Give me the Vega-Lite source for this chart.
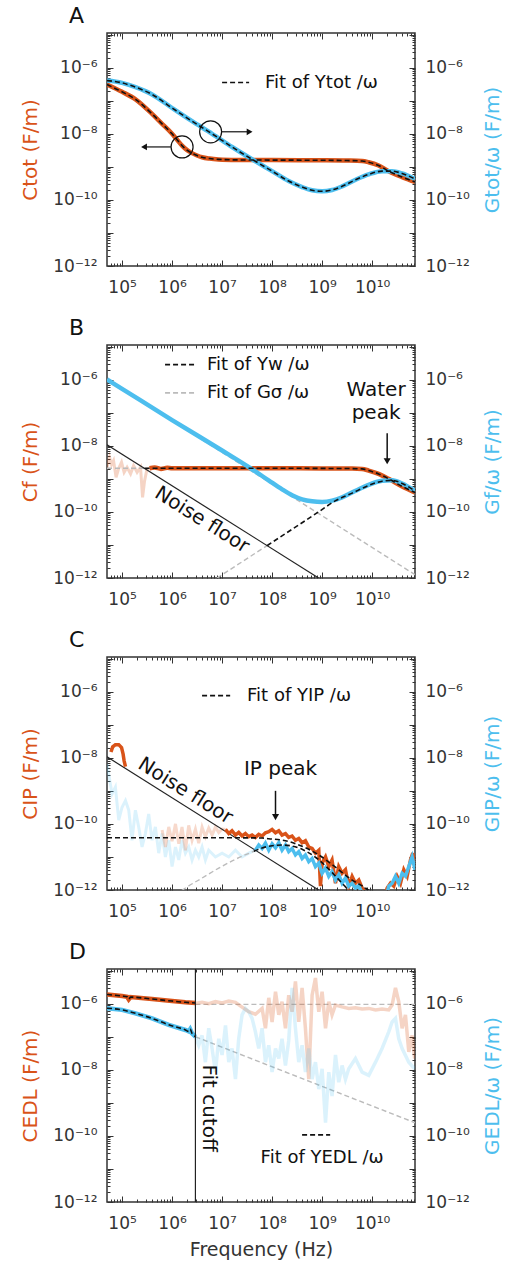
{
"$schema": "https://vega.github.io/schema/vega-lite/v6.json",
"background": "white",
"padding": {"left": 20, "top": 3, "right": 2, "bottom": 1},
"spacing": 19,
"config": {
  "font": "DejaVu Sans",
  "view": {"stroke": "#333333", "strokeWidth": 1.5},
  "axis": {"domain": false, "grid": false, "labelColor": "#333333", "tickColor": "#333333", "labelFont": "DejaVu Sans", "labelFontSize": 17, "titleFont": "DejaVu Sans", "titleFontWeight": "normal", "titleFontSize": 20, "labelOverlap": false, "labelFlush": false, "labelBound": false, "tickWidth": 1},
  "title": {"font": "DejaVu Sans", "fontSize": 22, "fontWeight": "normal", "color": "#111111", "anchor": "start", "frame": "group", "dx": -38, "offset": -2}
},
"datasets": {
  "A": [
    {"s":"C","f":5e4,"v":3.09e-7},{"s":"C","f":1e5,"v":1.86e-7},{"s":"C","f":1.86e5,"v":1.1e-7},{"s":"C","f":3.98e5,"v":3.98e-8},{"s":"C","f":6.31e5,"v":2.0e-8},{"s":"C","f":1e6,"v":1.0e-8},{"s":"C","f":1.26e6,"v":6.6e-9},{"s":"C","f":1.585e6,"v":4.4e-9},{"s":"C","f":2.0e6,"v":3.2e-9},{"s":"C","f":2.51e6,"v":2.6e-9},{"s":"C","f":3.16e6,"v":2.2e-9},{"s":"C","f":3.98e6,"v":1.95e-9},{"s":"C","f":5.6e6,"v":1.78e-9},{"s":"C","f":8.5e6,"v":1.68e-9},{"s":"C","f":2e7,"v":1.62e-9},{"s":"C","f":1e8,"v":1.6e-9},{"s":"C","f":1e9,"v":1.58e-9},{"s":"C","f":3.16e9,"v":1.55e-9},{"s":"C","f":6.31e9,"v":1.5e-9},{"s":"C","f":8.5e9,"v":1.38e-9},{"s":"C","f":1.35e10,"v":1.1e-9},{"s":"C","f":2.14e10,"v":7.4e-10},{"s":"C","f":3.98e10,"v":4.9e-10},{"s":"C","f":7.2e10,"v":3.5e-10},
    {"s":"G","f":5e4,"v":4.07e-7},{"s":"G","f":1e5,"v":3.47e-7},{"s":"G","f":1.86e5,"v":2.57e-7},{"s":"G","f":3.98e5,"v":1.55e-7},{"s":"G","f":1e6,"v":6.03e-8},{"s":"G","f":2.51e6,"v":2.4e-8},{"s":"G","f":6.31e6,"v":1.0e-8},{"s":"G","f":1.585e7,"v":3.98e-9},{"s":"G","f":4.27e7,"v":1.585e-9},{"s":"G","f":1e8,"v":7.41e-10},{"s":"G","f":2.14e8,"v":3.72e-10},{"s":"G","f":3.98e8,"v":2.45e-10},{"s":"G","f":6.31e8,"v":1.95e-10},{"s":"G","f":1e9,"v":1.82e-10},{"s":"G","f":1.585e9,"v":2.0e-10},{"s":"G","f":2.51e9,"v":2.57e-10},{"s":"G","f":4.68e9,"v":4.07e-10},{"s":"G","f":8.5e9,"v":5.89e-10},{"s":"G","f":1.585e10,"v":7.41e-10},{"s":"G","f":2.51e10,"v":7.41e-10},{"s":"G","f":3.98e10,"v":6.31e-10},{"s":"G","f":7.2e10,"v":4.3e-10}
  ],
  "aA": [
    {"k":"circle","f":1.585e6,"v":4.0e-9},{"k":"circle","f":5.9e6,"v":1.15e-8},
    {"k":"arr","f":9.5e5,"f2":2.75e5,"v":4.0e-9},{"k":"arr","f":9.8e6,"f2":3.55e7,"v":1.15e-8},
    {"k":"headL","f":2.75e5,"v":4.0e-9},{"k":"headR","f":3.55e7,"v":1.15e-8},
    {"k":"leg","f":1e7,"f2":3.47e7,"v":3.55e-7},
    {"k":"txt","f":7.2e7,"v":3.55e-7,"t":"Fit of Ytot /ω"}
  ],
  "B": [
    {"s":"Cn","f":5.01e4,"v":2.24e-9},{"s":"Cn","f":5.62e4,"v":4.47e-9},{"s":"Cn","f":6.17e4,"v":2.69e-9},{"s":"Cn","f":6.76e4,"v":3.55e-9},{"s":"Cn","f":7.59e4,"v":1.12e-9},{"s":"Cn","f":8.51e4,"v":2.0e-9},{"s":"Cn","f":9.77e4,"v":3.16e-9},{"s":"Cn","f":1.1e5,"v":1.58e-9},{"s":"Cn","f":1.26e5,"v":2.24e-9},{"s":"Cn","f":1.48e5,"v":1.41e-9},{"s":"Cn","f":1.7e5,"v":2.51e-9},{"s":"Cn","f":2.0e5,"v":1.58e-9},{"s":"Cn","f":2.34e5,"v":2.24e-9},{"s":"Cn","f":2.57e5,"v":2.75e-10},{"s":"Cn","f":2.82e5,"v":8.71e-10},{"s":"Cn","f":3.16e5,"v":2.0e-9},{"s":"Cn","f":3.55e5,"v":2.09e-9},
    {"s":"C","f":3.55e5,"v":2.09e-9},{"s":"C","f":4.5e5,"v":2.2e-9},{"s":"C","f":6e5,"v":2.0e-9},{"s":"C","f":8e5,"v":2.15e-9},{"s":"C","f":1e6,"v":2.09e-9},{"s":"C","f":1e7,"v":2.09e-9},{"s":"C","f":1e8,"v":2.09e-9},{"s":"C","f":1e9,"v":2.07e-9},{"s":"C","f":3.98e9,"v":2.04e-9},{"s":"C","f":6.31e9,"v":2.0e-9},{"s":"C","f":8.5e9,"v":1.78e-9},{"s":"C","f":1.35e10,"v":1.41e-9},{"s":"C","f":2.14e10,"v":1.0e-9},{"s":"C","f":3.98e10,"v":5.89e-10},{"s":"C","f":7.2e10,"v":3.89e-10},
    {"s":"Cfit","f":2.82e5,"v":2.09e-9},{"s":"Cfit","f":1e6,"v":2.09e-9},{"s":"Cfit","f":1e8,"v":2.09e-9},{"s":"Cfit","f":1e9,"v":2.07e-9},{"s":"Cfit","f":3.98e9,"v":2.04e-9},{"s":"Cfit","f":6.31e9,"v":2.0e-9},{"s":"Cfit","f":8.5e9,"v":1.78e-9},{"s":"Cfit","f":1.35e10,"v":1.41e-9},{"s":"Cfit","f":2.14e10,"v":1.0e-9},{"s":"Cfit","f":3.98e10,"v":5.89e-10},{"s":"Cfit","f":7.2e10,"v":3.89e-10},
    {"s":"Cfitg","f":5e4,"v":2.09e-9},{"s":"Cfitg","f":2.82e5,"v":2.09e-9},
    {"s":"G","f":5e4,"v":1.02e-6},{"s":"G","f":1e5,"v":5.3e-7},{"s":"G","f":1e6,"v":6.0e-8},{"s":"G","f":1e7,"v":7.2e-9},{"s":"G","f":3.98e7,"v":1.95e-9},{"s":"G","f":8.5e7,"v":9.0e-10},{"s":"G","f":1.585e8,"v":4.8e-10},{"s":"G","f":2.51e8,"v":3.2e-10},{"s":"G","f":3.98e8,"v":2.4e-10},{"s":"G","f":6.31e8,"v":2.09e-10},{"s":"G","f":1e9,"v":2.0e-10},{"s":"G","f":1.585e9,"v":2.19e-10},{"s":"G","f":2.51e9,"v":2.75e-10},{"s":"G","f":4.68e9,"v":4.37e-10},{"s":"G","f":8.5e9,"v":6.61e-10},{"s":"G","f":1.585e10,"v":8.71e-10},{"s":"G","f":2.51e10,"v":9.12e-10},{"s":"G","f":3.98e10,"v":7.24e-10},{"s":"G","f":7.2e10,"v":4.3e-10},
    {"s":"Gw","f":7.94e7,"v":9.55e-12},{"s":"Gw","f":8.5e8,"v":1.0e-10},{"s":"Gw","f":1.86e9,"v":2.19e-10},{"s":"Gw","f":3.98e9,"v":3.7e-10},{"s":"Gw","f":8.5e9,"v":6.3e-10},{"s":"Gw","f":1.585e10,"v":8.5e-10},{"s":"Gw","f":2.51e10,"v":9.0e-10},{"s":"Gw","f":3.98e10,"v":7.24e-10},{"s":"Gw","f":7.2e10,"v":4.3e-10},
    {"s":"Gwg","f":7.94e6,"v":1e-12},{"s":"Gwg","f":7.94e7,"v":9.55e-12},
    {"s":"Gs","f":5e4,"v":1.02e-6},{"s":"Gs","f":7.2e10,"v":1.26e-12},
    {"s":"N","f":5e4,"v":1.07e-8},{"s":"N","f":8.5e8,"v":1e-12}
  ],
  "aB": [
    {"k":"rot","f":3.98e6,"v":5.75e-11,"t":"Noise floor"},
    {"k":"big","f":1.2e10,"v":5.0e-7,"t":"Water"},{"k":"big","f":1.2e10,"v":9.8e-8,"t":"peak"},
    {"k":"varr","f":2e10,"v":2.4e-8,"v2":3.6e-9},{"k":"headD","f":2e10,"v":3.4e-9},
    {"k":"leg","f":7.24e5,"f2":2.75e6,"v":2.85e-6},{"k":"legg","f":7.24e5,"f2":2.75e6,"v":3.98e-7},
    {"k":"txt","f":5e6,"v":2.85e-6,"t":"Fit of Yw /ω"},{"k":"txt","f":5e6,"v":3.98e-7,"t":"Fit of Gσ /ω"}
  ],
  "C": [
    {"s":"Ch","f":6.0e4,"v":1.5e-8},{"s":"Ch","f":6.5e4,"v":2.14e-8},{"s":"Ch","f":7.36e4,"v":2.5e-8},{"s":"Ch","f":8.58e4,"v":2.5e-8},{"s":"Ch","f":9.77e4,"v":2.04e-8},{"s":"Ch","f":1.05e5,"v":1.29e-8},{"s":"Ch","f":1.1e5,"v":8.1e-9},{"s":"Ch","f":1.17e5,"v":5.4e-9},
    {"s":"Cf","f":6.31e5,"v":6.5e-11},{"s":"Cf","f":7.36e5,"v":2.0e-11},{"s":"Cf","f":8.58e5,"v":8.1e-11},{"s":"Cf","f":1e6,"v":3.0e-11},{"s":"Cf","f":1.17e6,"v":1.0e-10},{"s":"Cf","f":1.36e6,"v":2.5e-11},{"s":"Cf","f":1.58e6,"v":8.1e-11},{"s":"Cf","f":1.85e6,"v":1.6e-11},{"s":"Cf","f":2.15e6,"v":9e-11},{"s":"Cf","f":2.51e6,"v":3.2e-11},{"s":"Cf","f":2.93e6,"v":7e-11},{"s":"Cf","f":3.41e6,"v":2.6e-11},{"s":"Cf","f":3.98e6,"v":8e-11},{"s":"Cf","f":4.64e6,"v":4.1e-11},{"s":"Cf","f":5.41e6,"v":7.5e-11},{"s":"Cf","f":6.31e6,"v":4.6e-11},{"s":"Cf","f":7.36e6,"v":8e-11},{"s":"Cf","f":8.58e6,"v":5.5e-11},{"s":"Cf","f":1e7,"v":7e-11},{"s":"Cf","f":1.17e7,"v":6.8e-11},
    {"s":"C","f":1.17e7,"v":6.8e-11},{"s":"C","f":1.36e7,"v":5.1e-11},{"s":"C","f":1.58e7,"v":6.2e-11},{"s":"C","f":1.85e7,"v":4.6e-11},{"s":"C","f":2.15e7,"v":5.5e-11},{"s":"C","f":2.51e7,"v":4.3e-11},{"s":"C","f":2.93e7,"v":5.1e-11},{"s":"C","f":3.41e7,"v":4.1e-11},{"s":"C","f":3.98e7,"v":4.6e-11},{"s":"C","f":4.64e7,"v":3.9e-11},{"s":"C","f":5.41e7,"v":4.8e-11},{"s":"C","f":6.31e7,"v":4.3e-11},{"s":"C","f":7.36e7,"v":5.4e-11},{"s":"C","f":8.58e7,"v":5.8e-11},{"s":"C","f":1e8,"v":6.8e-11},{"s":"C","f":1.17e8,"v":5.4e-11},{"s":"C","f":1.36e8,"v":6.2e-11},{"s":"C","f":1.58e8,"v":4.6e-11},{"s":"C","f":1.85e8,"v":5.1e-11},{"s":"C","f":2.15e8,"v":3.9e-11},{"s":"C","f":2.51e8,"v":4.3e-11},{"s":"C","f":2.93e8,"v":3.2e-11},{"s":"C","f":3.41e8,"v":3.6e-11},{"s":"C","f":3.98e8,"v":2.7e-11},{"s":"C","f":4.64e8,"v":3.1e-11},{"s":"C","f":5.41e8,"v":2.0e-11},{"s":"C","f":6.31e8,"v":1.8e-11},{"s":"C","f":7.36e8,"v":1.3e-11},{"s":"C","f":8.58e8,"v":1.6e-11},{"s":"C","f":9.27e8,"v":1.3e-12},{"s":"C","f":1e9,"v":6.5e-12},{"s":"C","f":1.17e9,"v":1.0e-11},{"s":"C","f":1.36e9,"v":5.1e-12},{"s":"C","f":1.58e9,"v":8.1e-12},{"s":"C","f":1.85e9,"v":1.6e-12},{"s":"C","f":2.15e9,"v":5.1e-12},{"s":"C","f":2.51e9,"v":3.2e-12},{"s":"C","f":2.93e9,"v":4.1e-12},{"s":"C","f":3.41e9,"v":1.3e-12},{"s":"C","f":3.98e9,"v":2.6e-12},{"s":"C","f":4.64e9,"v":1.6e-12},{"s":"C","f":5.41e9,"v":2.0e-12},{"s":"C","f":6.31e9,"v":1.15e-12},{"s":"C","f":7.36e9,"v":8e-13},{"s":"C","f":8.58e9,"v":5e-13},{"s":"C","f":1.58e10,"v":3.2e-13},{"s":"C","f":2.0e10,"v":1.15e-12},{"s":"C","f":2.33e10,"v":1.6e-12},{"s":"C","f":2.71e10,"v":1.3e-12},{"s":"C","f":3.16e10,"v":2.6e-12},{"s":"C","f":3.69e10,"v":1.6e-12},{"s":"C","f":4.3e10,"v":4.1e-12},{"s":"C","f":5.01e10,"v":2.6e-12},{"s":"C","f":5.85e10,"v":8.1e-12},{"s":"C","f":6.5e10,"v":1.3e-11},{"s":"C","f":7.2e10,"v":5e-12},
    {"s":"Gf","f":5.01e4,"v":6.5e-9},{"s":"Gf","f":5.41e4,"v":3.2e-9},{"s":"Gf","f":6.31e4,"v":8.1e-10},{"s":"Gf","f":7.36e4,"v":1.3e-9},{"s":"Gf","f":8.58e4,"v":1.3e-10},{"s":"Gf","f":1e5,"v":3.2e-10},{"s":"Gf","f":1.17e5,"v":5.1e-10},{"s":"Gf","f":1.36e5,"v":2.6e-10},{"s":"Gf","f":1.58e5,"v":3.2e-11},{"s":"Gf","f":1.85e5,"v":2.6e-10},{"s":"Gf","f":2.15e5,"v":8.1e-11},{"s":"Gf","f":2.51e5,"v":2.0e-11},{"s":"Gf","f":2.93e5,"v":5.1e-11},{"s":"Gf","f":3.41e5,"v":2.0e-10},{"s":"Gf","f":3.98e5,"v":3.2e-11},{"s":"Gf","f":4.64e5,"v":8.1e-11},{"s":"Gf","f":5.41e5,"v":1.3e-11},{"s":"Gf","f":6.31e5,"v":5.1e-11},{"s":"Gf","f":7.36e5,"v":1.0e-11},{"s":"Gf","f":8.58e5,"v":3.2e-11},{"s":"Gf","f":1e6,"v":5.1e-12},{"s":"Gf","f":1.17e6,"v":2.0e-11},{"s":"Gf","f":1.36e6,"v":8.1e-12},{"s":"Gf","f":1.58e6,"v":3.2e-11},{"s":"Gf","f":1.85e6,"v":1.3e-11},{"s":"Gf","f":2.15e6,"v":2.0e-11},{"s":"Gf","f":2.51e6,"v":8.1e-12},{"s":"Gf","f":2.93e6,"v":1.6e-11},{"s":"Gf","f":3.41e6,"v":1.0e-11},{"s":"Gf","f":3.98e6,"v":2.0e-11},{"s":"Gf","f":4.64e6,"v":8.1e-12},{"s":"Gf","f":5.41e6,"v":1.6e-11},{"s":"Gf","f":7.36e6,"v":1.0e-11},{"s":"Gf","f":1e7,"v":1.3e-11},{"s":"Gf","f":1.36e7,"v":1.0e-11},{"s":"Gf","f":1.85e7,"v":1.6e-11},{"s":"Gf","f":2.51e7,"v":1.0e-11},{"s":"Gf","f":3.41e7,"v":1.3e-11},{"s":"Gf","f":4.64e7,"v":1.6e-11},
    {"s":"G","f":4.64e7,"v":1.6e-11},{"s":"G","f":5.41e7,"v":2.3e-11},{"s":"G","f":6.31e7,"v":1.8e-11},{"s":"G","f":7.36e7,"v":2.6e-11},{"s":"G","f":8.58e7,"v":1.6e-11},{"s":"G","f":1e8,"v":2.5e-11},{"s":"G","f":1.17e8,"v":1.9e-11},{"s":"G","f":1.36e8,"v":2.7e-11},{"s":"G","f":1.58e8,"v":1.6e-11},{"s":"G","f":1.85e8,"v":2.3e-11},{"s":"G","f":2.15e8,"v":1.45e-11},{"s":"G","f":2.51e8,"v":1.8e-11},{"s":"G","f":2.93e8,"v":1.15e-11},{"s":"G","f":3.41e8,"v":1.45e-11},{"s":"G","f":3.98e8,"v":9e-12},{"s":"G","f":4.64e8,"v":1.15e-11},{"s":"G","f":5.41e8,"v":7.2e-12},{"s":"G","f":6.31e8,"v":9e-12},{"s":"G","f":7.36e8,"v":5.1e-12},{"s":"G","f":8.58e8,"v":6.5e-12},{"s":"G","f":1e9,"v":3.2e-12},{"s":"G","f":1.17e9,"v":4.6e-12},{"s":"G","f":1.36e9,"v":2.6e-12},{"s":"G","f":1.58e9,"v":3.6e-12},{"s":"G","f":1.85e9,"v":2.0e-12},{"s":"G","f":2.15e9,"v":2.9e-12},{"s":"G","f":2.51e9,"v":1.6e-12},{"s":"G","f":2.93e9,"v":2.3e-12},{"s":"G","f":3.41e9,"v":1.3e-12},{"s":"G","f":3.98e9,"v":1.6e-12},{"s":"G","f":4.64e9,"v":1.15e-12},{"s":"G","f":5.41e9,"v":1.35e-12},{"s":"G","f":6.31e9,"v":8e-13},{"s":"G","f":7.36e9,"v":5e-13},{"s":"G","f":1.85e10,"v":5e-13},{"s":"G","f":2.15e10,"v":1.3e-12},{"s":"G","f":2.51e10,"v":1.6e-12},{"s":"G","f":2.93e10,"v":2.6e-12},{"s":"G","f":3.41e10,"v":1.6e-12},{"s":"G","f":3.98e10,"v":3.2e-12},{"s":"G","f":4.64e10,"v":2.6e-12},{"s":"G","f":5.41e10,"v":5.1e-12},{"s":"G","f":6.31e10,"v":1.0e-11},{"s":"G","f":7.2e10,"v":4.1e-12},
    {"s":"Cfit","f":5e4,"v":3.8e-11},{"s":"Cfit","f":1e7,"v":3.8e-11},{"s":"Cfit","f":6.31e7,"v":3.75e-11},{"s":"Cfit","f":8.58e7,"v":3.55e-11},{"s":"Cfit","f":1.85e8,"v":3.1e-11},{"s":"Cfit","f":3.98e8,"v":2.1e-11},{"s":"Cfit","f":8.58e8,"v":1.15e-11},{"s":"Cfit","f":1.85e9,"v":4.9e-12},{"s":"Cfit","f":3.98e9,"v":2.0e-12},{"s":"Cfit","f":7.36e9,"v":1.15e-12},{"s":"Cfit","f":1.17e10,"v":6.5e-13},
    {"s":"Gfitg","f":8.58e5,"v":5e-13},{"s":"Gfitg","f":1.85e6,"v":1.15e-12},{"s":"Gfitg","f":3.98e6,"v":2.3e-12},{"s":"Gfitg","f":8.58e6,"v":4.6e-12},{"s":"Gfitg","f":1.85e7,"v":8.5e-12},{"s":"Gfitg","f":4.3e7,"v":1.48e-11},
    {"s":"Gfit","f":4.3e7,"v":1.48e-11},{"s":"Gfit","f":6.31e7,"v":1.86e-11},{"s":"Gfit","f":1e8,"v":2.19e-11},{"s":"Gfit","f":1.58e8,"v":2.29e-11},{"s":"Gfit","f":2.51e8,"v":2.14e-11},{"s":"Gfit","f":3.98e8,"v":1.7e-11},{"s":"Gfit","f":7.36e8,"v":9.8e-12},{"s":"Gfit","f":1.36e9,"v":4.3e-12},{"s":"Gfit","f":2.51e9,"v":1.6e-12},{"s":"Gfit","f":3.6e9,"v":9.1e-13},
    {"s":"N","f":5e4,"v":1.07e-8},{"s":"N","f":8.5e8,"v":1e-12}
  ],
  "aC": [
    {"k":"rot","f":1.85e6,"v":1.0e-9,"t":"Noise floor"},
    {"k":"big","f":1.47e8,"v":4.6e-9,"t":"IP peak"},
    {"k":"varr","f":1.17e8,"v":1.0e-9,"v2":1.9e-10},{"k":"headD","f":1.17e8,"v":1.6e-10},
    {"k":"leg","f":3.98e6,"f2":1.45e7,"v":7.6e-7},
    {"k":"txt","f":3.16e7,"v":7.6e-7,"t":"Fit of YIP /ω"}
  ],
  "D": [
    {"s":"C","f":5e4,"v":1.9e-6},{"s":"C","f":1e5,"v":1.7e-6},{"s":"C","f":1.26e5,"v":1.62e-6},{"s":"C","f":1.36e5,"v":1.35e-6},{"s":"C","f":1.48e5,"v":1.58e-6},{"s":"C","f":3.98e5,"v":1.38e-6},{"s":"C","f":1e6,"v":1.2e-6},{"s":"C","f":1.85e6,"v":1.1e-6},{"s":"C","f":2.93e6,"v":1.05e-6},
    {"s":"G","f":5e4,"v":7.3e-7},{"s":"G","f":1e5,"v":6.5e-7},{"s":"G","f":1.85e5,"v":5.1e-7},{"s":"G","f":3.98e5,"v":3.6e-7},{"s":"G","f":8.58e5,"v":2.3e-7},{"s":"G","f":1.85e6,"v":1.6e-7},{"s":"G","f":2.15e6,"v":1.45e-7},{"s":"G","f":2.3e6,"v":1.7e-7},{"s":"G","f":2.51e6,"v":1.26e-7},{"s":"G","f":2.93e6,"v":1.0e-7},
    {"s":"Cx","f":2.93e6,"v":9.5e-7},{"s":"Cx","f":7.2e10,"v":9.5e-7},
    {"s":"Gx","f":2.93e6,"v":1.0e-7},{"s":"Gx","f":7.2e10,"v":2.5e-10},
    {"s":"Cf","f":2.93e6,"v":1.02e-6},{"s":"Cf","f":3.98e6,"v":1.1e-6},{"s":"Cf","f":5.41e6,"v":1.0e-6},{"s":"Cf","f":7.36e6,"v":1.15e-6},{"s":"Cf","f":1e7,"v":1.05e-6},{"s":"Cf","f":1.36e7,"v":1.2e-6},{"s":"Cf","f":1.85e7,"v":1.1e-6},{"s":"Cf","f":2.51e7,"v":7.9e-7},{"s":"Cf","f":3.41e7,"v":5.7e-7},{"s":"Cf","f":4.64e7,"v":4.8e-7},{"s":"Cf","f":6.31e7,"v":7.2e-7},{"s":"Cf","f":7.36e7,"v":1.8e-7},{"s":"Cf","f":8.58e7,"v":1.5e-6},{"s":"Cf","f":1e8,"v":2.8e-7},{"s":"Cf","f":1.17e8,"v":2.3e-6},{"s":"Cf","f":1.36e8,"v":4.6e-7},{"s":"Cf","f":1.58e8,"v":1.15e-6},{"s":"Cf","f":1.85e8,"v":1.8e-7},{"s":"Cf","f":2.15e8,"v":1.8e-6},{"s":"Cf","f":2.51e8,"v":5.7e-7},{"s":"Cf","f":2.93e8,"v":4.7e-6},{"s":"Cf","f":3.41e8,"v":2.8e-7},{"s":"Cf","f":3.98e8,"v":3.0e-6},{"s":"Cf","f":4.64e8,"v":1.8e-7},{"s":"Cf","f":5.41e8,"v":5.2e-9},{"s":"Cf","f":6.31e8,"v":1.8e-6},{"s":"Cf","f":7.36e8,"v":6e-6},{"s":"Cf","f":8.58e8,"v":5.7e-7},{"s":"Cf","f":1e9,"v":2.3e-6},{"s":"Cf","f":1.17e9,"v":1.8e-7},{"s":"Cf","f":1.36e9,"v":1.15e-6},{"s":"Cf","f":1.58e9,"v":4.6e-7},{"s":"Cf","f":1.85e9,"v":9.1e-7},{"s":"Cf","f":2.51e9,"v":8e-7},{"s":"Cf","f":3.41e9,"v":7.2e-7},{"s":"Cf","f":4.64e9,"v":7.5e-7},{"s":"Cf","f":6.31e9,"v":6.9e-7},{"s":"Cf","f":8.58e9,"v":7.2e-7},{"s":"Cf","f":1.17e10,"v":6.5e-7},{"s":"Cf","f":1.58e10,"v":6.9e-7},{"s":"Cf","f":2.15e10,"v":6.5e-7},{"s":"Cf","f":2.51e10,"v":9.1e-7},{"s":"Cf","f":2.93e10,"v":3e-6},{"s":"Cf","f":3.41e10,"v":1.15e-6},{"s":"Cf","f":3.98e10,"v":1.8e-7},{"s":"Cf","f":4.64e10,"v":4.6e-7},{"s":"Cf","f":5.41e10,"v":3.5e-8},{"s":"Cf","f":6.31e10,"v":1.1e-7},{"s":"Cf","f":7.08e10,"v":2.2e-8},
    {"s":"Gf","f":2.93e6,"v":1.0e-7},{"s":"Gf","f":3.41e6,"v":5.5e-8},{"s":"Gf","f":3.98e6,"v":1.1e-7},{"s":"Gf","f":4.64e6,"v":1.7e-8},{"s":"Gf","f":5.41e6,"v":1.8e-7},{"s":"Gf","f":6.31e6,"v":4.4e-8},{"s":"Gf","f":7.36e6,"v":8.5e-9},{"s":"Gf","f":8.58e6,"v":8.7e-8},{"s":"Gf","f":1e7,"v":2.8e-8},{"s":"Gf","f":1.17e7,"v":2.2e-7},{"s":"Gf","f":1.36e7,"v":1.7e-8},{"s":"Gf","f":1.58e7,"v":4.4e-8},{"s":"Gf","f":1.85e7,"v":5.2e-9},{"s":"Gf","f":2.15e7,"v":8.7e-8},{"s":"Gf","f":2.51e7,"v":4.6e-7},{"s":"Gf","f":2.93e7,"v":7.2e-7},{"s":"Gf","f":3.41e7,"v":5.7e-7},{"s":"Gf","f":3.98e7,"v":3.6e-7},{"s":"Gf","f":4.64e7,"v":1.4e-7},{"s":"Gf","f":5.41e7,"v":4.4e-8},{"s":"Gf","f":6.31e7,"v":1.8e-7},{"s":"Gf","f":7.36e7,"v":1.7e-8},{"s":"Gf","f":8.58e7,"v":5.5e-8},{"s":"Gf","f":1e8,"v":8.5e-9},{"s":"Gf","f":1.17e8,"v":4.4e-8},{"s":"Gf","f":1.36e8,"v":2.2e-8},{"s":"Gf","f":1.58e8,"v":8.7e-8},{"s":"Gf","f":1.85e8,"v":1.35e-8},{"s":"Gf","f":2.15e8,"v":7.6e-8},{"s":"Gf","f":2.51e8,"v":3e-6},{"s":"Gf","f":2.93e8,"v":1.8e-7},{"s":"Gf","f":3.41e8,"v":1.7e-8},{"s":"Gf","f":3.98e8,"v":5.5e-8},{"s":"Gf","f":4.64e8,"v":8.5e-9},{"s":"Gf","f":5.41e8,"v":4.4e-8},{"s":"Gf","f":6.31e8,"v":5.2e-9},{"s":"Gf","f":7.36e8,"v":1.7e-8},{"s":"Gf","f":8.58e8,"v":2.6e-9},{"s":"Gf","f":1e9,"v":1.07e-8},{"s":"Gf","f":1.17e9,"v":2.5e-10},{"s":"Gf","f":1.36e9,"v":8.5e-9},{"s":"Gf","f":1.58e9,"v":1.6e-9},{"s":"Gf","f":1.85e9,"v":2.8e-8},{"s":"Gf","f":2.15e9,"v":4.2e-9},{"s":"Gf","f":2.51e9,"v":1.35e-8},{"s":"Gf","f":2.93e9,"v":5.2e-9},{"s":"Gf","f":3.41e9,"v":1.07e-8},{"s":"Gf","f":4.64e9,"v":2.2e-8},{"s":"Gf","f":6.31e9,"v":8.5e-9},{"s":"Gf","f":8.58e9,"v":6.8e-9},{"s":"Gf","f":1.17e10,"v":1.7e-8},{"s":"Gf","f":1.58e10,"v":4.4e-8},{"s":"Gf","f":2.15e10,"v":1.4e-7},{"s":"Gf","f":2.51e10,"v":2.8e-7},{"s":"Gf","f":2.93e10,"v":3.6e-7},{"s":"Gf","f":3.41e10,"v":8.7e-8},{"s":"Gf","f":3.98e10,"v":4.4e-8},{"s":"Gf","f":5.41e10,"v":1.7e-8},{"s":"Gf","f":7.08e10,"v":1.07e-8}
  ],
  "aD": [
    {"k":"cut","f":2.93e6,"v":1e-12,"v2":1.12e-5},
    {"k":"rot","f":5.4e6,"v":6.9e-10,"t":"Fit cutoff"},
    {"k":"leg","f":3.98e8,"f2":1.45e9,"v":1.07e-10},
    {"k":"txtc","f":1e9,"v":2.1e-11,"t":"Fit of YEDL /ω"}
  ],
  "axisPt": [{"f":1e6,"v":1e-9}]
},
"vconcat": [
 {
  "title": {"text": "A"},
  "width": 308, "height": 233,
  "encoding": {
    "x": {"field":"f","type":"quantitative","scale":{"type":"log","domain":[50000,72000000000],"nice":false},"axis":null},
    "y": {"field":"v","type":"quantitative","scale":{"type":"log","domain":[1e-12,1.12e-5],"nice":false},"axis":null}
  },
  "resolve": {"axis": {"x":"independent","y":"independent"}},
  "layer": [
    {"data":{"name":"axisPt"},"mark":{"type":"point","opacity":0},
     "encoding":{
      "x":{"field":"f","type":"quantitative","scale":{"type":"log","domain":[50000,72000000000],"nice":false},"axis":{"orient":"bottom","values":[100000,1000000,10000000,100000000,1000000000,10000000000],"tickSize":-6,"labelPadding":19,"labelExpr":"'10' + ['⁵','⁶','⁷','⁸','⁹','¹⁰'][round(log(datum.value)/LN10)-5]","title":null}},
      "y":{"field":"v","type":"quantitative","scale":{"type":"log","domain":[1e-12,1.12e-5],"nice":false},"axis":{"orient":"left","values":[1e-12,1e-11,1e-10,1e-9,1e-8,1e-7,1e-6,1e-5],"tickSize":-6,"labelPadding":16,"labelExpr":"['10⁻¹²','','10⁻¹⁰','','10⁻⁸','','10⁻⁶',''][round(log(datum.value)/LN10)+12]","title":"Ctot (F/m)","titleColor":"#D95319","titlePadding":12}}
     }},
    {"data":{"name":"axisPt"},"mark":{"type":"point","opacity":0},
     "encoding":{
      "x":{"field":"f","type":"quantitative","scale":{"type":"log","domain":[50000,72000000000],"nice":false},"axis":{"orient":"top","values":[100000,1000000,10000000,100000000,1000000000,10000000000],"tickSize":-6,"labels":false,"title":null}},
      "y":{"field":"v","type":"quantitative","scale":{"type":"log","domain":[1e-12,1.12e-5],"nice":false},"axis":{"orient":"right","values":[1e-12,1e-11,1e-10,1e-9,1e-8,1e-7,1e-6,1e-5],"tickSize":-6,"labelPadding":16,"labelExpr":"['10⁻¹²','','10⁻¹⁰','','10⁻⁸','','10⁻⁶',''][round(log(datum.value)/LN10)+12]","title":"Gtot/ω (F/m)","titleColor":"#4DBEEE","titleAngle":-90,"titleBaseline":"top","titlePadding":13}}
     }},
    {"data":{"name":"axisPt"},"mark":{"type":"point","opacity":0},
     "encoding":{
      "x":{"field":"f","type":"quantitative","scale":{"type":"log","domain":[50000,72000000000],"nice":false},"axis":{"orient":"bottom","values":[60000,70000,80000,90000,200000,300000,400000,500000,600000,700000,800000,900000,2000000,3000000,4000000,5000000,6000000,7000000,8000000,9000000,20000000,30000000,40000000,50000000,60000000,70000000,80000000,90000000,200000000,300000000,400000000,500000000,600000000,700000000,800000000,900000000,2000000000,3000000000,4000000000,5000000000,6000000000,7000000000,8000000000,9000000000,20000000000,30000000000,40000000000,50000000000,60000000000,70000000000],"tickSize":-3,"labels":false,"title":null}},
      "y":{"field":"v","type":"quantitative","scale":{"type":"log","domain":[1e-12,1.12e-5],"nice":false},"axis":{"orient":"left","values":[2e-12,3e-12,4e-12,5e-12,6e-12,7e-12,8e-12,9e-12,2e-11,3e-11,4e-11,5e-11,6e-11,7e-11,8e-11,9e-11,2e-10,3e-10,4e-10,5e-10,6e-10,7e-10,8e-10,9e-10,2e-9,3e-9,4e-9,5e-9,6e-9,7e-9,8e-9,9e-9,2e-8,3e-8,4e-8,5e-8,6e-8,7e-8,8e-8,9e-8,2e-7,3e-7,4e-7,5e-7,6e-7,7e-7,8e-7,9e-7,2e-6,3e-6,4e-6,5e-6,6e-6,7e-6,8e-6,9e-6],"tickSize":-3,"labels":false,"title":null}}
     }},
    {"data":{"name":"axisPt"},"mark":{"type":"point","opacity":0},
     "encoding":{
      "x":{"field":"f","type":"quantitative","scale":{"type":"log","domain":[50000,72000000000],"nice":false},"axis":{"orient":"top","values":[60000,70000,80000,90000,200000,300000,400000,500000,600000,700000,800000,900000,2000000,3000000,4000000,5000000,6000000,7000000,8000000,9000000,20000000,30000000,40000000,50000000,60000000,70000000,80000000,90000000,200000000,300000000,400000000,500000000,600000000,700000000,800000000,900000000,2000000000,3000000000,4000000000,5000000000,6000000000,7000000000,8000000000,9000000000,20000000000,30000000000,40000000000,50000000000,60000000000,70000000000],"tickSize":-3,"labels":false,"title":null}},
      "y":{"field":"v","type":"quantitative","scale":{"type":"log","domain":[1e-12,1.12e-5],"nice":false},"axis":{"orient":"right","values":[2e-12,3e-12,4e-12,5e-12,6e-12,7e-12,8e-12,9e-12,2e-11,3e-11,4e-11,5e-11,6e-11,7e-11,8e-11,9e-11,2e-10,3e-10,4e-10,5e-10,6e-10,7e-10,8e-10,9e-10,2e-9,3e-9,4e-9,5e-9,6e-9,7e-9,8e-9,9e-9,2e-8,3e-8,4e-8,5e-8,6e-8,7e-8,8e-8,9e-8,2e-7,3e-7,4e-7,5e-7,6e-7,7e-7,8e-7,9e-7,2e-6,3e-6,4e-6,5e-6,6e-6,7e-6,8e-6,9e-6],"tickSize":-3,"labels":false,"title":null}}
     }},
    {"data":{"name":"A"},"transform":[{"filter":"datum.s=='C'"}],"mark":{"type":"line","color":"#D95319","strokeWidth":4.5,"interpolate":"monotone","clip":true}},
    {"data":{"name":"A"},"transform":[{"filter":"datum.s=='G'"}],"mark":{"type":"line","color":"#4DBEEE","strokeWidth":4.5,"interpolate":"monotone","clip":true}},
    {"data":{"name":"A"},"mark":{"type":"line","color":"#111111","strokeWidth":1.6,"strokeDash":[5,3],"interpolate":"monotone","clip":true},"encoding":{"detail":{"field":"s"}}},
    {"data":{"name":"aA"},"transform":[{"filter":"datum.k=='circle'"}],"mark":{"type":"point","shape":"circle","filled":false,"stroke":"#111111","strokeWidth":1.2,"size":484,"opacity":1}},
    {"data":{"name":"aA"},"transform":[{"filter":"datum.k=='arr'"}],"mark":{"type":"rule","color":"#111111","strokeWidth":1.2},"encoding":{"x2":{"field":"f2"}}},
    {"data":{"name":"aA"},"transform":[{"filter":"datum.k=='headL'"}],"mark":{"type":"point","shape":"triangle-left","filled":true,"color":"#111111","size":45,"opacity":1}},
    {"data":{"name":"aA"},"transform":[{"filter":"datum.k=='headR'"}],"mark":{"type":"point","shape":"triangle-right","filled":true,"color":"#111111","size":45,"opacity":1}},
    {"data":{"name":"aA"},"transform":[{"filter":"datum.k=='leg'"}],"mark":{"type":"rule","color":"#111111","strokeWidth":1.6,"strokeDash":[5,3]},"encoding":{"x2":{"field":"f2"}}},
    {"data":{"name":"aA"},"transform":[{"filter":"datum.k=='txt'"}],"mark":{"type":"text","align":"left","baseline":"middle","fontSize":18,"color":"#111111"},"encoding":{"text":{"field":"t"}}}
  ]
 },
 {
  "title": {"text": "B"},
  "width": 308, "height": 233,
  "encoding": {
    "x": {"field":"f","type":"quantitative","scale":{"type":"log","domain":[50000,72000000000],"nice":false},"axis":null},
    "y": {"field":"v","type":"quantitative","scale":{"type":"log","domain":[1e-12,1.12e-5],"nice":false},"axis":null}
  },
  "resolve": {"axis": {"x":"independent","y":"independent"}},
  "layer": [
    {"data":{"name":"axisPt"},"mark":{"type":"point","opacity":0},
     "encoding":{
      "x":{"field":"f","type":"quantitative","scale":{"type":"log","domain":[50000,72000000000],"nice":false},"axis":{"orient":"bottom","values":[100000,1000000,10000000,100000000,1000000000,10000000000],"tickSize":-6,"labelPadding":19,"labelExpr":"'10' + ['⁵','⁶','⁷','⁸','⁹','¹⁰'][round(log(datum.value)/LN10)-5]","title":null}},
      "y":{"field":"v","type":"quantitative","scale":{"type":"log","domain":[1e-12,1.12e-5],"nice":false},"axis":{"orient":"left","values":[1e-12,1e-11,1e-10,1e-9,1e-8,1e-7,1e-6,1e-5],"tickSize":-6,"labelPadding":16,"labelExpr":"['10⁻¹²','','10⁻¹⁰','','10⁻⁸','','10⁻⁶',''][round(log(datum.value)/LN10)+12]","title":"Cf (F/m)","titleColor":"#D95319","titlePadding":12}}
     }},
    {"data":{"name":"axisPt"},"mark":{"type":"point","opacity":0},
     "encoding":{
      "x":{"field":"f","type":"quantitative","scale":{"type":"log","domain":[50000,72000000000],"nice":false},"axis":{"orient":"top","values":[100000,1000000,10000000,100000000,1000000000,10000000000],"tickSize":-6,"labels":false,"title":null}},
      "y":{"field":"v","type":"quantitative","scale":{"type":"log","domain":[1e-12,1.12e-5],"nice":false},"axis":{"orient":"right","values":[1e-12,1e-11,1e-10,1e-9,1e-8,1e-7,1e-6,1e-5],"tickSize":-6,"labelPadding":16,"labelExpr":"['10⁻¹²','','10⁻¹⁰','','10⁻⁸','','10⁻⁶',''][round(log(datum.value)/LN10)+12]","title":"Gf/ω (F/m)","titleColor":"#4DBEEE","titleAngle":-90,"titleBaseline":"top","titlePadding":13}}
     }},
    {"data":{"name":"axisPt"},"mark":{"type":"point","opacity":0},
     "encoding":{
      "x":{"field":"f","type":"quantitative","scale":{"type":"log","domain":[50000,72000000000],"nice":false},"axis":{"orient":"bottom","values":[60000,70000,80000,90000,200000,300000,400000,500000,600000,700000,800000,900000,2000000,3000000,4000000,5000000,6000000,7000000,8000000,9000000,20000000,30000000,40000000,50000000,60000000,70000000,80000000,90000000,200000000,300000000,400000000,500000000,600000000,700000000,800000000,900000000,2000000000,3000000000,4000000000,5000000000,6000000000,7000000000,8000000000,9000000000,20000000000,30000000000,40000000000,50000000000,60000000000,70000000000],"tickSize":-3,"labels":false,"title":null}},
      "y":{"field":"v","type":"quantitative","scale":{"type":"log","domain":[1e-12,1.12e-5],"nice":false},"axis":{"orient":"left","values":[2e-12,3e-12,4e-12,5e-12,6e-12,7e-12,8e-12,9e-12,2e-11,3e-11,4e-11,5e-11,6e-11,7e-11,8e-11,9e-11,2e-10,3e-10,4e-10,5e-10,6e-10,7e-10,8e-10,9e-10,2e-9,3e-9,4e-9,5e-9,6e-9,7e-9,8e-9,9e-9,2e-8,3e-8,4e-8,5e-8,6e-8,7e-8,8e-8,9e-8,2e-7,3e-7,4e-7,5e-7,6e-7,7e-7,8e-7,9e-7,2e-6,3e-6,4e-6,5e-6,6e-6,7e-6,8e-6,9e-6],"tickSize":-3,"labels":false,"title":null}}
     }},
    {"data":{"name":"axisPt"},"mark":{"type":"point","opacity":0},
     "encoding":{
      "x":{"field":"f","type":"quantitative","scale":{"type":"log","domain":[50000,72000000000],"nice":false},"axis":{"orient":"top","values":[60000,70000,80000,90000,200000,300000,400000,500000,600000,700000,800000,900000,2000000,3000000,4000000,5000000,6000000,7000000,8000000,9000000,20000000,30000000,40000000,50000000,60000000,70000000,80000000,90000000,200000000,300000000,400000000,500000000,600000000,700000000,800000000,900000000,2000000000,3000000000,4000000000,5000000000,6000000000,7000000000,8000000000,9000000000,20000000000,30000000000,40000000000,50000000000,60000000000,70000000000],"tickSize":-3,"labels":false,"title":null}},
      "y":{"field":"v","type":"quantitative","scale":{"type":"log","domain":[1e-12,1.12e-5],"nice":false},"axis":{"orient":"right","values":[2e-12,3e-12,4e-12,5e-12,6e-12,7e-12,8e-12,9e-12,2e-11,3e-11,4e-11,5e-11,6e-11,7e-11,8e-11,9e-11,2e-10,3e-10,4e-10,5e-10,6e-10,7e-10,8e-10,9e-10,2e-9,3e-9,4e-9,5e-9,6e-9,7e-9,8e-9,9e-9,2e-8,3e-8,4e-8,5e-8,6e-8,7e-8,8e-8,9e-8,2e-7,3e-7,4e-7,5e-7,6e-7,7e-7,8e-7,9e-7,2e-6,3e-6,4e-6,5e-6,6e-6,7e-6,8e-6,9e-6],"tickSize":-3,"labels":false,"title":null}}
     }},
    {"data":{"name":"B"},"transform":[{"filter":"datum.s=='Cn'"}],"mark":{"type":"line","color":"#D95319","opacity":0.25,"strokeWidth":3,"clip":true}},
    {"data":{"name":"B"},"transform":[{"filter":"datum.s=='Cfitg' || datum.s=='Gs' || datum.s=='Gwg'"}],"mark":{"type":"line","color":"#BBBBBB","strokeWidth":1.4,"strokeDash":[5,3],"clip":true},"encoding":{"detail":{"field":"s"}}},
    {"data":{"name":"B"},"transform":[{"filter":"datum.s=='N'"}],"mark":{"type":"line","color":"#222222","strokeWidth":1.2,"clip":true}},
    {"data":{"name":"B"},"transform":[{"filter":"datum.s=='C'"}],"mark":{"type":"line","color":"#D95319","strokeWidth":4.5,"interpolate":"monotone","clip":true}},
    {"data":{"name":"B"},"transform":[{"filter":"datum.s=='G'"}],"mark":{"type":"line","color":"#4DBEEE","strokeWidth":4.5,"interpolate":"monotone","clip":true}},
    {"data":{"name":"B"},"transform":[{"filter":"datum.s=='Cfit' || datum.s=='Gw'"}],"mark":{"type":"line","color":"#111111","strokeWidth":1.6,"strokeDash":[5,3],"interpolate":"monotone","clip":true},"encoding":{"detail":{"field":"s"}}},
    {"data":{"name":"aB"},"transform":[{"filter":"datum.k=='rot'"}],"mark":{"type":"text","angle":32,"align":"center","baseline":"middle","fontSize":20,"color":"#111111"},"encoding":{"text":{"field":"t"}}},
    {"data":{"name":"aB"},"transform":[{"filter":"datum.k=='big'"}],"mark":{"type":"text","align":"center","baseline":"middle","fontSize":20,"color":"#111111"},"encoding":{"text":{"field":"t"}}},
    {"data":{"name":"aB"},"transform":[{"filter":"datum.k=='varr'"}],"mark":{"type":"rule","color":"#111111","strokeWidth":1.5},"encoding":{"y2":{"field":"v2"}}},
    {"data":{"name":"aB"},"transform":[{"filter":"datum.k=='headD'"}],"mark":{"type":"point","shape":"triangle-down","filled":true,"color":"#111111","size":50,"opacity":1}},
    {"data":{"name":"aB"},"transform":[{"filter":"datum.k=='leg'"}],"mark":{"type":"rule","color":"#111111","strokeWidth":1.6,"strokeDash":[5,3]},"encoding":{"x2":{"field":"f2"}}},
    {"data":{"name":"aB"},"transform":[{"filter":"datum.k=='legg'"}],"mark":{"type":"rule","color":"#BBBBBB","strokeWidth":1.6,"strokeDash":[5,3]},"encoding":{"x2":{"field":"f2"}}},
    {"data":{"name":"aB"},"transform":[{"filter":"datum.k=='txt'"}],"mark":{"type":"text","align":"left","baseline":"middle","fontSize":18,"color":"#111111"},"encoding":{"text":{"field":"t"}}}
  ]
 },
 {
  "title": {"text": "C"},
  "width": 308, "height": 233,
  "encoding": {
    "x": {"field":"f","type":"quantitative","scale":{"type":"log","domain":[50000,72000000000],"nice":false},"axis":null},
    "y": {"field":"v","type":"quantitative","scale":{"type":"log","domain":[1e-12,1.12e-5],"nice":false},"axis":null}
  },
  "resolve": {"axis": {"x":"independent","y":"independent"}},
  "layer": [
    {"data":{"name":"axisPt"},"mark":{"type":"point","opacity":0},
     "encoding":{
      "x":{"field":"f","type":"quantitative","scale":{"type":"log","domain":[50000,72000000000],"nice":false},"axis":{"orient":"bottom","values":[100000,1000000,10000000,100000000,1000000000,10000000000],"tickSize":-6,"labelPadding":19,"labelExpr":"'10' + ['⁵','⁶','⁷','⁸','⁹','¹⁰'][round(log(datum.value)/LN10)-5]","title":null}},
      "y":{"field":"v","type":"quantitative","scale":{"type":"log","domain":[1e-12,1.12e-5],"nice":false},"axis":{"orient":"left","values":[1e-12,1e-11,1e-10,1e-9,1e-8,1e-7,1e-6,1e-5],"tickSize":-6,"labelPadding":16,"labelExpr":"['10⁻¹²','','10⁻¹⁰','','10⁻⁸','','10⁻⁶',''][round(log(datum.value)/LN10)+12]","title":"CIP (F/m)","titleColor":"#D95319","titlePadding":12}}
     }},
    {"data":{"name":"axisPt"},"mark":{"type":"point","opacity":0},
     "encoding":{
      "x":{"field":"f","type":"quantitative","scale":{"type":"log","domain":[50000,72000000000],"nice":false},"axis":{"orient":"top","values":[100000,1000000,10000000,100000000,1000000000,10000000000],"tickSize":-6,"labels":false,"title":null}},
      "y":{"field":"v","type":"quantitative","scale":{"type":"log","domain":[1e-12,1.12e-5],"nice":false},"axis":{"orient":"right","values":[1e-12,1e-11,1e-10,1e-9,1e-8,1e-7,1e-6,1e-5],"tickSize":-6,"labelPadding":16,"labelExpr":"['10⁻¹²','','10⁻¹⁰','','10⁻⁸','','10⁻⁶',''][round(log(datum.value)/LN10)+12]","title":"GIP/ω (F/m)","titleColor":"#4DBEEE","titleAngle":-90,"titleBaseline":"top","titlePadding":13}}
     }},
    {"data":{"name":"axisPt"},"mark":{"type":"point","opacity":0},
     "encoding":{
      "x":{"field":"f","type":"quantitative","scale":{"type":"log","domain":[50000,72000000000],"nice":false},"axis":{"orient":"bottom","values":[60000,70000,80000,90000,200000,300000,400000,500000,600000,700000,800000,900000,2000000,3000000,4000000,5000000,6000000,7000000,8000000,9000000,20000000,30000000,40000000,50000000,60000000,70000000,80000000,90000000,200000000,300000000,400000000,500000000,600000000,700000000,800000000,900000000,2000000000,3000000000,4000000000,5000000000,6000000000,7000000000,8000000000,9000000000,20000000000,30000000000,40000000000,50000000000,60000000000,70000000000],"tickSize":-3,"labels":false,"title":null}},
      "y":{"field":"v","type":"quantitative","scale":{"type":"log","domain":[1e-12,1.12e-5],"nice":false},"axis":{"orient":"left","values":[2e-12,3e-12,4e-12,5e-12,6e-12,7e-12,8e-12,9e-12,2e-11,3e-11,4e-11,5e-11,6e-11,7e-11,8e-11,9e-11,2e-10,3e-10,4e-10,5e-10,6e-10,7e-10,8e-10,9e-10,2e-9,3e-9,4e-9,5e-9,6e-9,7e-9,8e-9,9e-9,2e-8,3e-8,4e-8,5e-8,6e-8,7e-8,8e-8,9e-8,2e-7,3e-7,4e-7,5e-7,6e-7,7e-7,8e-7,9e-7,2e-6,3e-6,4e-6,5e-6,6e-6,7e-6,8e-6,9e-6],"tickSize":-3,"labels":false,"title":null}}
     }},
    {"data":{"name":"axisPt"},"mark":{"type":"point","opacity":0},
     "encoding":{
      "x":{"field":"f","type":"quantitative","scale":{"type":"log","domain":[50000,72000000000],"nice":false},"axis":{"orient":"top","values":[60000,70000,80000,90000,200000,300000,400000,500000,600000,700000,800000,900000,2000000,3000000,4000000,5000000,6000000,7000000,8000000,9000000,20000000,30000000,40000000,50000000,60000000,70000000,80000000,90000000,200000000,300000000,400000000,500000000,600000000,700000000,800000000,900000000,2000000000,3000000000,4000000000,5000000000,6000000000,7000000000,8000000000,9000000000,20000000000,30000000000,40000000000,50000000000,60000000000,70000000000],"tickSize":-3,"labels":false,"title":null}},
      "y":{"field":"v","type":"quantitative","scale":{"type":"log","domain":[1e-12,1.12e-5],"nice":false},"axis":{"orient":"right","values":[2e-12,3e-12,4e-12,5e-12,6e-12,7e-12,8e-12,9e-12,2e-11,3e-11,4e-11,5e-11,6e-11,7e-11,8e-11,9e-11,2e-10,3e-10,4e-10,5e-10,6e-10,7e-10,8e-10,9e-10,2e-9,3e-9,4e-9,5e-9,6e-9,7e-9,8e-9,9e-9,2e-8,3e-8,4e-8,5e-8,6e-8,7e-8,8e-8,9e-8,2e-7,3e-7,4e-7,5e-7,6e-7,7e-7,8e-7,9e-7,2e-6,3e-6,4e-6,5e-6,6e-6,7e-6,8e-6,9e-6],"tickSize":-3,"labels":false,"title":null}}
     }},
    {"data":{"name":"C"},"transform":[{"filter":"datum.s=='Gf'"}],"mark":{"type":"line","color":"#4DBEEE","opacity":0.2,"strokeWidth":3,"clip":true}},
    {"data":{"name":"C"},"transform":[{"filter":"datum.s=='Cf'"}],"mark":{"type":"line","color":"#D95319","opacity":0.22,"strokeWidth":3,"clip":true}},
    {"data":{"name":"C"},"transform":[{"filter":"datum.s=='Gfitg'"}],"mark":{"type":"line","color":"#BBBBBB","strokeWidth":1.4,"strokeDash":[5,3],"interpolate":"monotone","clip":true}},
    {"data":{"name":"C"},"transform":[{"filter":"datum.s=='N'"}],"mark":{"type":"line","color":"#222222","strokeWidth":1.2,"clip":true}},
    {"data":{"name":"C"},"transform":[{"filter":"datum.s=='Ch' || datum.s=='C'"}],"mark":{"type":"line","color":"#D95319","strokeWidth":3.5,"clip":true},"encoding":{"detail":{"field":"s"}}},
    {"data":{"name":"C"},"transform":[{"filter":"datum.s=='G'"}],"mark":{"type":"line","color":"#4DBEEE","strokeWidth":3.5,"clip":true}},
    {"data":{"name":"C"},"transform":[{"filter":"datum.s=='Cfit' || datum.s=='Gfit'"}],"mark":{"type":"line","color":"#111111","strokeWidth":1.6,"strokeDash":[5,3],"interpolate":"monotone","clip":true},"encoding":{"detail":{"field":"s"}}},
    {"data":{"name":"aC"},"transform":[{"filter":"datum.k=='rot'"}],"mark":{"type":"text","angle":32,"align":"center","baseline":"middle","fontSize":20,"color":"#111111"},"encoding":{"text":{"field":"t"}}},
    {"data":{"name":"aC"},"transform":[{"filter":"datum.k=='big'"}],"mark":{"type":"text","align":"center","baseline":"middle","fontSize":20,"color":"#111111"},"encoding":{"text":{"field":"t"}}},
    {"data":{"name":"aC"},"transform":[{"filter":"datum.k=='varr'"}],"mark":{"type":"rule","color":"#111111","strokeWidth":1.5},"encoding":{"y2":{"field":"v2"}}},
    {"data":{"name":"aC"},"transform":[{"filter":"datum.k=='headD'"}],"mark":{"type":"point","shape":"triangle-down","filled":true,"color":"#111111","size":50,"opacity":1}},
    {"data":{"name":"aC"},"transform":[{"filter":"datum.k=='leg'"}],"mark":{"type":"rule","color":"#111111","strokeWidth":1.6,"strokeDash":[5,3]},"encoding":{"x2":{"field":"f2"}}},
    {"data":{"name":"aC"},"transform":[{"filter":"datum.k=='txt'"}],"mark":{"type":"text","align":"left","baseline":"middle","fontSize":18,"color":"#111111"},"encoding":{"text":{"field":"t"}}}
  ]
 },
 {
  "title": {"text": "D"},
  "width": 308, "height": 233,
  "encoding": {
    "x": {"field":"f","type":"quantitative","scale":{"type":"log","domain":[50000,72000000000],"nice":false},"axis":null},
    "y": {"field":"v","type":"quantitative","scale":{"type":"log","domain":[1e-12,1.12e-5],"nice":false},"axis":null}
  },
  "resolve": {"axis": {"x":"independent","y":"independent"}},
  "layer": [
    {"data":{"name":"axisPt"},"mark":{"type":"point","opacity":0},
     "encoding":{
      "x":{"field":"f","type":"quantitative","scale":{"type":"log","domain":[50000,72000000000],"nice":false},"axis":{"orient":"bottom","values":[100000,1000000,10000000,100000000,1000000000,10000000000],"tickSize":-6,"labelPadding":19,"labelExpr":"'10' + ['⁵','⁶','⁷','⁸','⁹','¹⁰'][round(log(datum.value)/LN10)-5]","title":"Frequency (Hz)","titleColor":"#333333","titleFontSize":19,"titlePadding":9}},
      "y":{"field":"v","type":"quantitative","scale":{"type":"log","domain":[1e-12,1.12e-5],"nice":false},"axis":{"orient":"left","values":[1e-12,1e-11,1e-10,1e-9,1e-8,1e-7,1e-6,1e-5],"tickSize":-6,"labelPadding":16,"labelExpr":"['10⁻¹²','','10⁻¹⁰','','10⁻⁸','','10⁻⁶',''][round(log(datum.value)/LN10)+12]","title":"CEDL (F/m)","titleColor":"#D95319","titlePadding":12}}
     }},
    {"data":{"name":"axisPt"},"mark":{"type":"point","opacity":0},
     "encoding":{
      "x":{"field":"f","type":"quantitative","scale":{"type":"log","domain":[50000,72000000000],"nice":false},"axis":{"orient":"top","values":[100000,1000000,10000000,100000000,1000000000,10000000000],"tickSize":-6,"labels":false,"title":null}},
      "y":{"field":"v","type":"quantitative","scale":{"type":"log","domain":[1e-12,1.12e-5],"nice":false},"axis":{"orient":"right","values":[1e-12,1e-11,1e-10,1e-9,1e-8,1e-7,1e-6,1e-5],"tickSize":-6,"labelPadding":16,"labelExpr":"['10⁻¹²','','10⁻¹⁰','','10⁻⁸','','10⁻⁶',''][round(log(datum.value)/LN10)+12]","title":"GEDL/ω (F/m)","titleColor":"#4DBEEE","titleAngle":-90,"titleBaseline":"top","titlePadding":13}}
     }},
    {"data":{"name":"axisPt"},"mark":{"type":"point","opacity":0},
     "encoding":{
      "x":{"field":"f","type":"quantitative","scale":{"type":"log","domain":[50000,72000000000],"nice":false},"axis":{"orient":"bottom","values":[60000,70000,80000,90000,200000,300000,400000,500000,600000,700000,800000,900000,2000000,3000000,4000000,5000000,6000000,7000000,8000000,9000000,20000000,30000000,40000000,50000000,60000000,70000000,80000000,90000000,200000000,300000000,400000000,500000000,600000000,700000000,800000000,900000000,2000000000,3000000000,4000000000,5000000000,6000000000,7000000000,8000000000,9000000000,20000000000,30000000000,40000000000,50000000000,60000000000,70000000000],"tickSize":-3,"labels":false,"title":null}},
      "y":{"field":"v","type":"quantitative","scale":{"type":"log","domain":[1e-12,1.12e-5],"nice":false},"axis":{"orient":"left","values":[2e-12,3e-12,4e-12,5e-12,6e-12,7e-12,8e-12,9e-12,2e-11,3e-11,4e-11,5e-11,6e-11,7e-11,8e-11,9e-11,2e-10,3e-10,4e-10,5e-10,6e-10,7e-10,8e-10,9e-10,2e-9,3e-9,4e-9,5e-9,6e-9,7e-9,8e-9,9e-9,2e-8,3e-8,4e-8,5e-8,6e-8,7e-8,8e-8,9e-8,2e-7,3e-7,4e-7,5e-7,6e-7,7e-7,8e-7,9e-7,2e-6,3e-6,4e-6,5e-6,6e-6,7e-6,8e-6,9e-6],"tickSize":-3,"labels":false,"title":null}}
     }},
    {"data":{"name":"axisPt"},"mark":{"type":"point","opacity":0},
     "encoding":{
      "x":{"field":"f","type":"quantitative","scale":{"type":"log","domain":[50000,72000000000],"nice":false},"axis":{"orient":"top","values":[60000,70000,80000,90000,200000,300000,400000,500000,600000,700000,800000,900000,2000000,3000000,4000000,5000000,6000000,7000000,8000000,9000000,20000000,30000000,40000000,50000000,60000000,70000000,80000000,90000000,200000000,300000000,400000000,500000000,600000000,700000000,800000000,900000000,2000000000,3000000000,4000000000,5000000000,6000000000,7000000000,8000000000,9000000000,20000000000,30000000000,40000000000,50000000000,60000000000,70000000000],"tickSize":-3,"labels":false,"title":null}},
      "y":{"field":"v","type":"quantitative","scale":{"type":"log","domain":[1e-12,1.12e-5],"nice":false},"axis":{"orient":"right","values":[2e-12,3e-12,4e-12,5e-12,6e-12,7e-12,8e-12,9e-12,2e-11,3e-11,4e-11,5e-11,6e-11,7e-11,8e-11,9e-11,2e-10,3e-10,4e-10,5e-10,6e-10,7e-10,8e-10,9e-10,2e-9,3e-9,4e-9,5e-9,6e-9,7e-9,8e-9,9e-9,2e-8,3e-8,4e-8,5e-8,6e-8,7e-8,8e-8,9e-8,2e-7,3e-7,4e-7,5e-7,6e-7,7e-7,8e-7,9e-7,2e-6,3e-6,4e-6,5e-6,6e-6,7e-6,8e-6,9e-6],"tickSize":-3,"labels":false,"title":null}}
     }},
    {"data":{"name":"D"},"transform":[{"filter":"datum.s=='Cx' || datum.s=='Gx'"}],"mark":{"type":"line","color":"#BBBBBB","strokeWidth":1.4,"strokeDash":[5,3],"clip":true},"encoding":{"detail":{"field":"s"}}},
    {"data":{"name":"D"},"transform":[{"filter":"datum.s=='Cf'"}],"mark":{"type":"line","color":"#D95319","opacity":0.25,"strokeWidth":3.5,"clip":true}},
    {"data":{"name":"D"},"transform":[{"filter":"datum.s=='Gf'"}],"mark":{"type":"line","color":"#4DBEEE","opacity":0.2,"strokeWidth":3.5,"clip":true}},
    {"data":{"name":"D"},"transform":[{"filter":"datum.s=='C'"}],"mark":{"type":"line","color":"#D95319","strokeWidth":4.5,"clip":true}},
    {"data":{"name":"D"},"transform":[{"filter":"datum.s=='G'"}],"mark":{"type":"line","color":"#4DBEEE","strokeWidth":4.5,"clip":true}},
    {"data":{"name":"D"},"transform":[{"filter":"datum.s=='C' || datum.s=='G'"}],"mark":{"type":"line","color":"#111111","strokeWidth":1.6,"strokeDash":[5,3],"interpolate":"monotone","clip":true},"encoding":{"detail":{"field":"s"}}},
    {"data":{"name":"aD"},"transform":[{"filter":"datum.k=='cut'"}],"mark":{"type":"rule","color":"#222222","strokeWidth":1.2},"encoding":{"y2":{"field":"v2"}}},
    {"data":{"name":"aD"},"transform":[{"filter":"datum.k=='rot'"}],"mark":{"type":"text","angle":90,"align":"center","baseline":"middle","fontSize":20,"color":"#111111"},"encoding":{"text":{"field":"t"}}},
    {"data":{"name":"aD"},"transform":[{"filter":"datum.k=='leg'"}],"mark":{"type":"rule","color":"#111111","strokeWidth":1.6,"strokeDash":[5,3]},"encoding":{"x2":{"field":"f2"}}},
    {"data":{"name":"aD"},"transform":[{"filter":"datum.k=='txtc'"}],"mark":{"type":"text","align":"center","baseline":"middle","fontSize":18,"color":"#111111"},"encoding":{"text":{"field":"t"}}}
  ]
 }
]
}
